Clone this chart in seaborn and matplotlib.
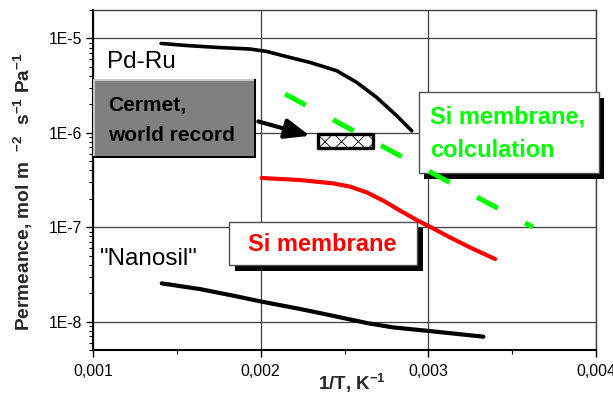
import numpy as np
import pandas as pd
import matplotlib
matplotlib.use("Agg")
import matplotlib.pyplot as plt
import seaborn as sns
from matplotlib.patches import Rectangle
from matplotlib.ticker import FixedLocator, LogLocator, NullFormatter

# ---------------- data ----------------
pdru_x = [0.001406, 0.001549, 0.001738, 0.001936, 0.002036, 0.002133, 0.002294,
          0.002453, 0.002573, 0.002692, 0.002811, 0.002901]
pdru_y = [8.85e-6, 8.43e-6, 8.03e-6, 7.72e-6, 7.28e-6, 6.56e-6, 5.57e-6,
          4.55e-6, 3.42e-6, 2.37e-6, 1.52e-6, 1.05e-6]

si_x = [0.002006, 0.002235, 0.002433, 0.002533, 0.002632, 0.002731, 0.002831,
        0.002931, 0.003010, 0.003129, 0.003248, 0.003398]
si_y = [3.32e-7, 3.16e-7, 2.91e-7, 2.69e-7, 2.34e-7, 1.91e-7, 1.50e-7,
        1.19e-7, 1.01e-7, 7.80e-8, 6.11e-8, 4.60e-8]

nano_x = [0.001410, 0.001638, 0.001837, 0.001996, 0.002235, 0.002433, 0.002632,
          0.002791, 0.002990, 0.003328]
nano_y = [2.54e-8, 2.21e-8, 1.88e-8, 1.64e-8, 1.36e-8, 1.15e-8, 9.66e-9,
          8.67e-9, 8.00e-9, 6.92e-9]

calc_x = [0.002145, 0.003624]
calc_y = [2.58e-6, 1.00e-7]

cermet_x = [0.002342, 0.002670]
cermet_y = [6.95e-7, 9.77e-7]

arrow_from = (0.001986, 1.32e-6)
arrow_to = (0.002294, 9.3e-7)

x_ticks = [0.001, 0.002, 0.003, 0.004]
x_tick_labels = ["0,001", "0,002", "0,003", "0,004"]
x_minor = [0.0015, 0.0025, 0.0035]
y_ticks = [1e-8, 1e-7, 1e-6, 1e-5]
y_tick_labels = ["1E-8", "1E-7", "1E-6", "1E-5"]

# ---------------- style ----------------
sns.set_theme(style="white")
plt.rcParams["font.family"] = ["Liberation Sans", "DejaVu Sans"]
plt.rcParams["mathtext.fontset"] = "custom"
plt.rcParams["mathtext.rm"] = "Liberation Sans"
plt.rcParams["mathtext.bf"] = "Liberation Sans:bold"
plt.rcParams["hatch.linewidth"] = 0.6

fig = plt.figure(figsize=(6.13, 3.97), dpi=100)
ax = fig.add_axes([93 / 613, 1 - 350 / 397, 503 / 613, 340 / 397])

# curves
sns.lineplot(x=pdru_x, y=pdru_y, ax=ax, color="black", lw=2.6,
             sort=False, estimator=None, zorder=5)
sns.lineplot(x=si_x, y=si_y, ax=ax, color="#ff0000", lw=3.0,
             sort=False, estimator=None, zorder=5)
sns.lineplot(x=nano_x, y=nano_y, ax=ax, color="black", lw=3.0,
             sort=False, estimator=None, zorder=5)
sns.lineplot(x=calc_x, y=calc_y, ax=ax, color="#00ff00", lw=3.6,
             linestyle=(0, (4.7, 6.2)), sort=False, estimator=None, zorder=5)

# cermet record box
ax.add_patch(Rectangle((cermet_x[0], cermet_y[0]), cermet_x[1] - cermet_x[0],
                       cermet_y[1] - cermet_y[0], facecolor="white",
                       edgecolor="black", lw=2.4, hatch="xx",
                       joinstyle="round", zorder=6))
ax.annotate("", xy=arrow_to, xytext=arrow_from,
            arrowprops=dict(arrowstyle="-|>,head_length=1.0,head_width=0.4",
                            lw=3, color="black", shrinkA=0, shrinkB=0,
                            mutation_scale=15), zorder=6)

ax.set_xscale("linear")
ax.set_yscale("log")
ax.set_xlim(0.001, 0.004)
ax.set_ylim(5e-9, 2e-5)

ax.xaxis.set_major_locator(FixedLocator(x_ticks))
ax.set_xticklabels(x_tick_labels)
ax.xaxis.set_minor_locator(FixedLocator(x_minor))
ax.yaxis.set_major_locator(FixedLocator(y_ticks))
ax.set_yticklabels(y_tick_labels)
ax.yaxis.set_minor_locator(LogLocator(base=10, subs=np.arange(2, 10)))
ax.yaxis.set_minor_formatter(NullFormatter())

ax.tick_params(axis="both", which="major", direction="out", length=5, width=1,
               labelsize=11.3, color="black", labelcolor="black",
               bottom=True, left=True, top=False, right=False)
ax.tick_params(axis="x", which="major", pad=5)
ax.tick_params(axis="y", which="major", pad=3)
ax.tick_params(axis="both", which="minor", direction="out", length=3, width=0.8,
               color="black", bottom=True, left=True, top=False, right=False)

ax.grid(True, which="major", color="#404040", lw=0.9)
ax.set_axisbelow(True)
for s in ["left", "bottom"]:
    ax.spines[s].set_color("black")
    ax.spines[s].set_linewidth(1.5)
for s in ["top", "right"]:
    ax.spines[s].set_color("#404040")
    ax.spines[s].set_linewidth(1.0)

ax.set_xlabel(r"1/T, K$^{\mathbf{-1}}$", fontsize=13.5, fontweight="bold")
ax.xaxis.set_label_coords(0.515, -0.063)
ax.set_ylabel(r"Permeance, mol m  $^{\mathbf{-2}}$  s$^{\mathbf{-1}}$ Pa$^{\mathbf{-1}}$",
              fontsize=13.8, fontweight="bold")
ax.yaxis.set_label_coords(-0.115, 0.465)

T = ax.transAxes
px = 1 / 503
py = 1 / 340

# gray 3-D box "Cermet, world record"
gx0, gx1, gy0, gy1 = 0.0006, 0.324, 0.5656, 0.797
ax.add_patch(Rectangle((gx0, gy0), gx1 - gx0, gy1 - gy0, transform=T,
                       facecolor="black", edgecolor="none", zorder=3, clip_on=False))
ax.add_patch(Rectangle((gx0, gy0 + 2 * py), gx1 - gx0 - 2 * px, gy1 - gy0 - 2 * py,
                       transform=T, facecolor="#c8c8c8", edgecolor="none",
                       zorder=3.1, clip_on=False))
ax.add_patch(Rectangle((gx0 + 2 * px, gy0 + 2 * py), gx1 - gx0 - 4 * px,
                       gy1 - gy0 - 4 * py, transform=T, facecolor="#808080",
                       edgecolor="none", zorder=3.2, clip_on=False))
ax.text(0.0298, 0.7038, "Cermet,", transform=T, fontsize=15, fontweight="bold",
        color="black", va="baseline", ha="left", zorder=7)
ax.text(0.0298, 0.6156, "world record", transform=T, fontsize=15, fontweight="bold",
        color="black", va="baseline", ha="left", zorder=7)


def shadow_box(x0, x1, y0, y1, dx, dy):
    ax.add_patch(Rectangle((x0 + dx, y0 + dy), x1 - x0, y1 - y0, transform=T,
                           facecolor="black", edgecolor="none", zorder=3,
                           clip_on=False))
    ax.add_patch(Rectangle((x0, y0), x1 - x0, y1 - y0, transform=T,
                           facecolor="white", edgecolor="#505050", lw=1,
                           zorder=3.2, clip_on=False))


# green box
shadow_box(0.6487, 1.006, 0.5215, 0.758, 5 * px, -6 * py)
ax.text(0.670, 0.6676, "Si membrane,", transform=T, fontsize=17, fontweight="bold",
        color="#00ff00", va="baseline", ha="left", zorder=7)
ax.text(0.670, 0.5676, "colculation", transform=T, fontsize=17, fontweight="bold",
        color="#00ff00", va="baseline", ha="left", zorder=7)

# red box
shadow_box(0.271, 0.6447, 0.25, 0.3756, 6 * px, -6 * py)
ax.text(0.455, 0.291, "Si membrane", transform=T, fontsize=17, fontweight="bold",
        color="#ff0000", va="baseline", ha="center", zorder=7)

# plain labels
ax.text(0.0278, 0.829, "Pd-Ru", transform=T, fontsize=17.5, color="black",
        va="baseline", ha="left", zorder=7)
ax.text(0.0139, 0.25, '"Nanosil"', transform=T, fontsize=17.5, color="black",
        va="baseline", ha="left", zorder=7)

fig.savefig("out.png", dpi=100)
